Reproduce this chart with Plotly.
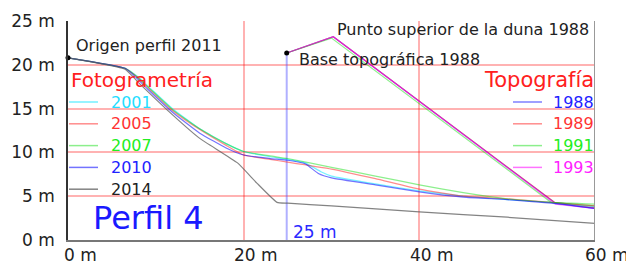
import plotly.graph_objects as go

# ---------------- data ----------------
# Fotogrametría profiles (distance m, height m)
x_2001 = [0, 6.5, 8, 9.5, 12, 15, 18, 20, 23, 25, 27, 28.8, 30, 35, 40, 45, 50, 55, 60]
y_2001 = [20.8, 19.6, 18.6, 17.2, 14.9, 12.7, 11.0, 10.1, 9.5, 9.2, 8.8, 7.8, 7.3, 6.4, 5.6, 5.0, 4.6, 4.3, 3.8]

x_2005 = [0, 6.5, 8, 9.5, 12, 15, 18, 20, 23, 25, 30, 35, 40, 45, 50, 55, 60]
y_2005 = [20.8, 19.6, 18.5, 17.0, 14.7, 12.6, 10.8, 9.7, 9.2, 8.9, 8.1, 7.0, 5.8, 5.0, 4.7, 4.3, 3.9]

x_2007 = [0, 6.5, 8, 9.5, 12, 15, 18, 20, 23, 25, 30, 35, 40, 45, 50, 55, 60]
y_2007 = [20.8, 19.6, 18.5, 17.1, 14.8, 12.7, 11.0, 10.1, 9.6, 9.3, 8.3, 7.3, 6.3, 5.4, 4.7, 4.3, 4.1]

x_2010 = [0, 6.5, 7.7, 9, 12, 15, 18, 20, 23, 25, 27, 28.5, 30, 35, 40, 45, 50, 55, 60]
y_2010 = [20.8, 19.6, 18.6, 17.3, 14.5, 12.2, 10.5, 9.7, 9.3, 9.1, 8.7, 7.6, 7.1, 6.3, 5.5, 4.9, 4.6, 4.2, 3.6]

x_2014 = [0, 6.5, 8, 12, 15, 19.3, 21.5, 23.8, 25, 30, 40, 50, 60]
y_2014 = [20.8, 19.5, 18.0, 14.2, 11.6, 8.8, 6.5, 4.3, 4.2, 3.9, 3.2, 2.6, 1.9]

# Topografía profiles
x_1988 = [24.9, 30.2, 55.5, 60]
y_1988 = [21.35, 23.2, 4.2, 3.6]
x_1989 = [24.9, 30.2, 55.4, 60]
y_1989 = [21.35, 23.2, 4.3, 3.7]
x_1991 = [24.9, 30.0, 55.0, 60]
y_1991 = [21.35, 23.05, 4.3, 3.9]
x_1993 = [24.9, 30.2, 55.5, 60]
y_1993 = [21.35, 23.2, 4.1, 3.6]

# reference points
origin_x, origin_y = 0, 20.8          # Origen perfil 2011
base_x, base_y = 24.9, 21.35          # Base topográfica 1988

foto_years = ["2001", "2005", "2007", "2010", "2014"]
topo_years = ["1988", "1989", "1991", "1993"]

x_ticks = [0, 20, 40, 60]
x_tick_labels = ["0 m", "20 m", "40 m", "60 m"]
y_ticks = [0, 5, 10, 15, 20, 25]
y_tick_labels = ["0 m", "5 m", "10 m", "15 m", "20 m", "25 m"]

# ---------------- styles ----------------
FONT = "DejaVu Sans"
foto_line = {"2001": "rgba(0,230,255,0.55)", "2005": "rgba(255,0,0,0.45)",
             "2007": "rgba(0,220,0,0.45)", "2010": "rgba(0,0,255,0.55)",
             "2014": "rgba(90,90,90,0.75)"}
foto_text = {"2001": "#22ddff", "2005": "#ff3333", "2007": "#22ee22",
             "2010": "#2222ff", "2014": "#222222"}
topo_line = {"1988": "rgba(0,0,255,0.5)", "1989": "rgba(255,0,0,0.45)",
             "1991": "rgba(0,220,0,0.45)", "1993": "rgba(255,0,255,0.55)"}
topo_text = {"1988": "#2222ff", "1989": "#ff3333", "1991": "#22ee22", "1993": "#ff22ff"}

fig = go.Figure()

# blue marker line at base
fig.add_trace(go.Scatter(x=[base_x, base_x], y=[0, base_y], mode="lines",
                         line=dict(color="rgba(80,80,255,0.45)", width=2),
                         hoverinfo="skip", showlegend=False))

foto_data = {"2001": (x_2001, y_2001), "2005": (x_2005, y_2005), "2007": (x_2007, y_2007),
             "2010": (x_2010, y_2010), "2014": (x_2014, y_2014)}
topo_data = {"1988": (x_1988, y_1988), "1989": (x_1989, y_1989),
             "1991": (x_1991, y_1991), "1993": (x_1993, y_1993)}

for yr in topo_years:
    xs, ys = topo_data[yr]
    fig.add_trace(go.Scatter(x=xs, y=ys, mode="lines", name=yr,
                             line=dict(color=topo_line[yr], width=1.2), showlegend=False))
for yr in foto_years:
    xs, ys = foto_data[yr]
    fig.add_trace(go.Scatter(x=xs, y=ys, mode="lines", name=yr,
                             line=dict(color=foto_line[yr], width=1.2, shape="spline",
                                       smoothing=0.4), showlegend=False))

fig.add_trace(go.Scatter(x=[origin_x, base_x], y=[origin_y, base_y], mode="markers",
                         marker=dict(color="black", size=5), showlegend=False,
                         cliponaxis=False))

# ---------------- layout geometry ----------------
# page has an 8px body margin, so the figure itself starts at (8, 8)
OFF = 8
W, H = 634 - OFF, 263 - OFF
L, R, T, B = 68 - OFF, 39, 21 - OFF, 23
pw, ph = W - L - R, H - T - B


def px(xp):
    return (xp - OFF - L) / pw


def py(yp):
    return (H + OFF - B - yp) / ph


ann = []
shapes = []

# x tick labels (number centred on tick)
for v, lab in zip(x_ticks, x_tick_labels):
    num = lab.split(" ")[0]
    ann.append(dict(x=v, y=0, xref="x", yref="paper", text=lab, showarrow=False,
                    xanchor="left", yanchor="top", xshift=-len(num) * 17 * 0.636 / 2 - 1,
                    yshift=-3, font=dict(family=FONT, size=17, color="#222")))

# annotations
ann.append(dict(x=px(74), y=py(45), xref="paper", yref="paper", text="Origen perfil 2011",
                showarrow=False, xanchor="left", yanchor="middle",
                font=dict(family=FONT, size=16, color="#222")))
ann.append(dict(x=px(591), y=py(29), xref="paper", yref="paper",
                text="Punto superior de la duna 1988", showarrow=False,
                xanchor="right", yanchor="middle", font=dict(family=FONT, size=16, color="#222")))
ann.append(dict(x=px(297), y=py(59), xref="paper", yref="paper",
                text="Base topográfica 1988", showarrow=False,
                xanchor="left", yanchor="middle", font=dict(family=FONT, size=16, color="#222")))
ann.append(dict(x=px(69), y=py(80), xref="paper", yref="paper", text="Fotogrametría",
                showarrow=False, xanchor="left", yanchor="middle",
                font=dict(family=FONT, size=20, color="#ff2020")))
ann.append(dict(x=px(596), y=py(80), xref="paper", yref="paper", text="Topografía",
                showarrow=False, xanchor="right", yanchor="middle",
                font=dict(family=FONT, size=21, color="#ff2020")))
ann.append(dict(x=px(91), y=py(218), xref="paper", yref="paper", text="Perfil 4",
                showarrow=False, xanchor="left", yanchor="middle",
                font=dict(family=FONT, size=32, color="#1a1aff")))
ann.append(dict(x=px(291), y=py(232), xref="paper", yref="paper", text="25 m",
                showarrow=False, xanchor="left", yanchor="middle",
                font=dict(family=FONT, size=17, color="#2a2aff")))

# left legend (Fotogrametría)
for i, yr in enumerate(foto_years):
    yc = 102 + i * 21.8
    shapes.append(dict(type="line", xref="paper", yref="paper", x0=px(69), x1=px(98),
                       y0=py(yc), y1=py(yc), line=dict(color=foto_line[yr], width=1.5)))
    ann.append(dict(x=px(109), y=py(yc), xref="paper", yref="paper", text=yr,
                    showarrow=False, xanchor="left", yanchor="middle",
                    font=dict(family=FONT, size=16, color=foto_text[yr])))
# right legend (Topografía)
for i, yr in enumerate(topo_years):
    yc = 102 + i * 21.8
    shapes.append(dict(type="line", xref="paper", yref="paper", x0=px(513), x1=px(542),
                       y0=py(yc), y1=py(yc), line=dict(color=topo_line[yr], width=1.5)))
    ann.append(dict(x=px(596), y=py(yc), xref="paper", yref="paper", text=yr,
                    showarrow=False, xanchor="right", yanchor="middle",
                    font=dict(family=FONT, size=16, color=topo_text[yr])))

# right frame line
shapes.append(dict(type="line", xref="x", yref="paper", x0=60, x1=60, y0=0, y1=1,
                   line=dict(color="#999999", width=2), layer="above"))

fig.update_layout(
    width=W, height=H,
    margin=dict(l=L, r=R, t=T, b=B, pad=0, autoexpand=False),
    paper_bgcolor="white", plot_bgcolor="white",
    showlegend=False,
    annotations=ann, shapes=shapes,
    xaxis=dict(range=[0, 60], tickvals=[20, 40], showticklabels=False, ticks="",
               showgrid=True, gridcolor="rgba(255,0,0,0.3)", gridwidth=2,
               zeroline=False, showline=True, linecolor="#777", linewidth=1.5),
    yaxis=dict(range=[0, 25], tickvals=y_ticks, ticktext=y_tick_labels, ticks="",
               ticklabelstandoff=8,
               tickfont=dict(family=FONT, size=17, color="#222"),
               showgrid=True, gridcolor="rgba(255,0,0,0.3)", gridwidth=2,
               zeroline=False, showline=True, linecolor="#333", linewidth=1.5),
)

fig.write_html("out.html")
